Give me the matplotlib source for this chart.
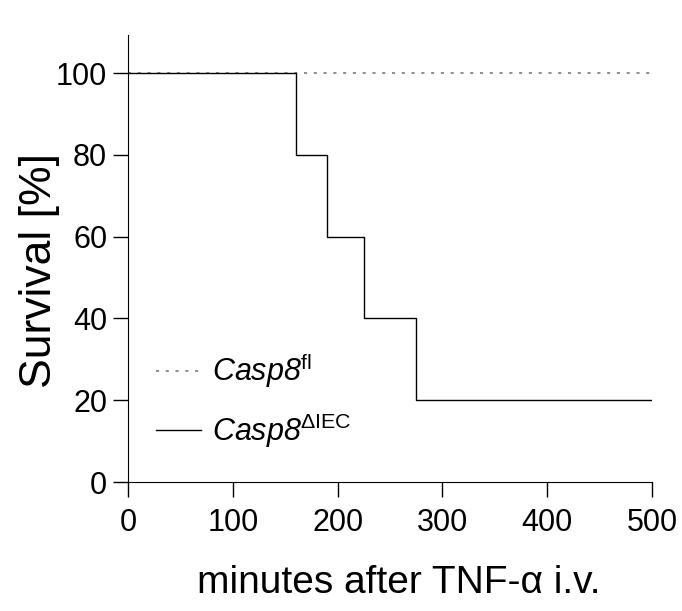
import matplotlib

matplotlib.use("Agg")
import matplotlib.pyplot as plt

# survival data (step changes)
minutes_fl = [0, 500]
survival_fl = [100, 100]

minutes_iec = [0, 160, 190, 225, 275, 500]
survival_iec = [100, 80, 60, 40, 20, 20]

x_ticks = [0, 100, 200, 300, 400, 500]
y_ticks = [0, 20, 40, 60, 80, 100]

plt.rcParams["font.family"] = ["Liberation Sans", "DejaVu Sans"]
# italic gene name incl. the digit -> rm slot is the italic face, sf is upright
plt.rcParams["mathtext.fontset"] = "custom"
plt.rcParams["mathtext.rm"] = "Liberation Sans:italic"
plt.rcParams["mathtext.it"] = "Liberation Sans:italic"
plt.rcParams["mathtext.sf"] = "Liberation Sans"

fig = plt.figure(figsize=(6.82, 6.11), dpi=100)
ax = fig.add_axes([128 / 682, 1 - 482 / 611, 524 / 682, 447 / 611])

ax.step(minutes_fl, survival_fl, where="post", color="#6e6e6e", lw=1.1,
        linestyle=(0, (2.0, 4.4)), label=r"$\mathrm{Casp8}^{\mathsf{fl}}$")
ax.step(minutes_iec, survival_iec, where="post", color="black", lw=1.0,
        label=r"$\mathrm{Casp8}^{\mathsf{\Delta IEC}}$")

ax.set_xlim(0, 500)
ax.set_ylim(0, 109.3)
ax.set_xticks(x_ticks)
ax.set_yticks(y_ticks)
ax.spines["top"].set_visible(False)
ax.spines["right"].set_visible(False)
ax.tick_params(axis="both", direction="out", labelsize=22, width=1, length=11)
ax.tick_params(axis="x", pad=8)
ax.tick_params(axis="y", pad=4)

ax.set_xlabel("minutes after TNF-α i.v.", fontsize=28)
ax.xaxis.set_label_coords(0.517, -0.186)
ax.set_ylabel("Survival [%]", fontsize=32)
ax.yaxis.set_label_coords(-0.129, 0.474)

ax.legend(loc="lower left", bbox_to_anchor=(0.0, 0.01), frameon=False,
          fontsize=22, handlelength=1.5, handletextpad=0.35, labelspacing=0.7)

fig.savefig("out.png", dpi=100)
